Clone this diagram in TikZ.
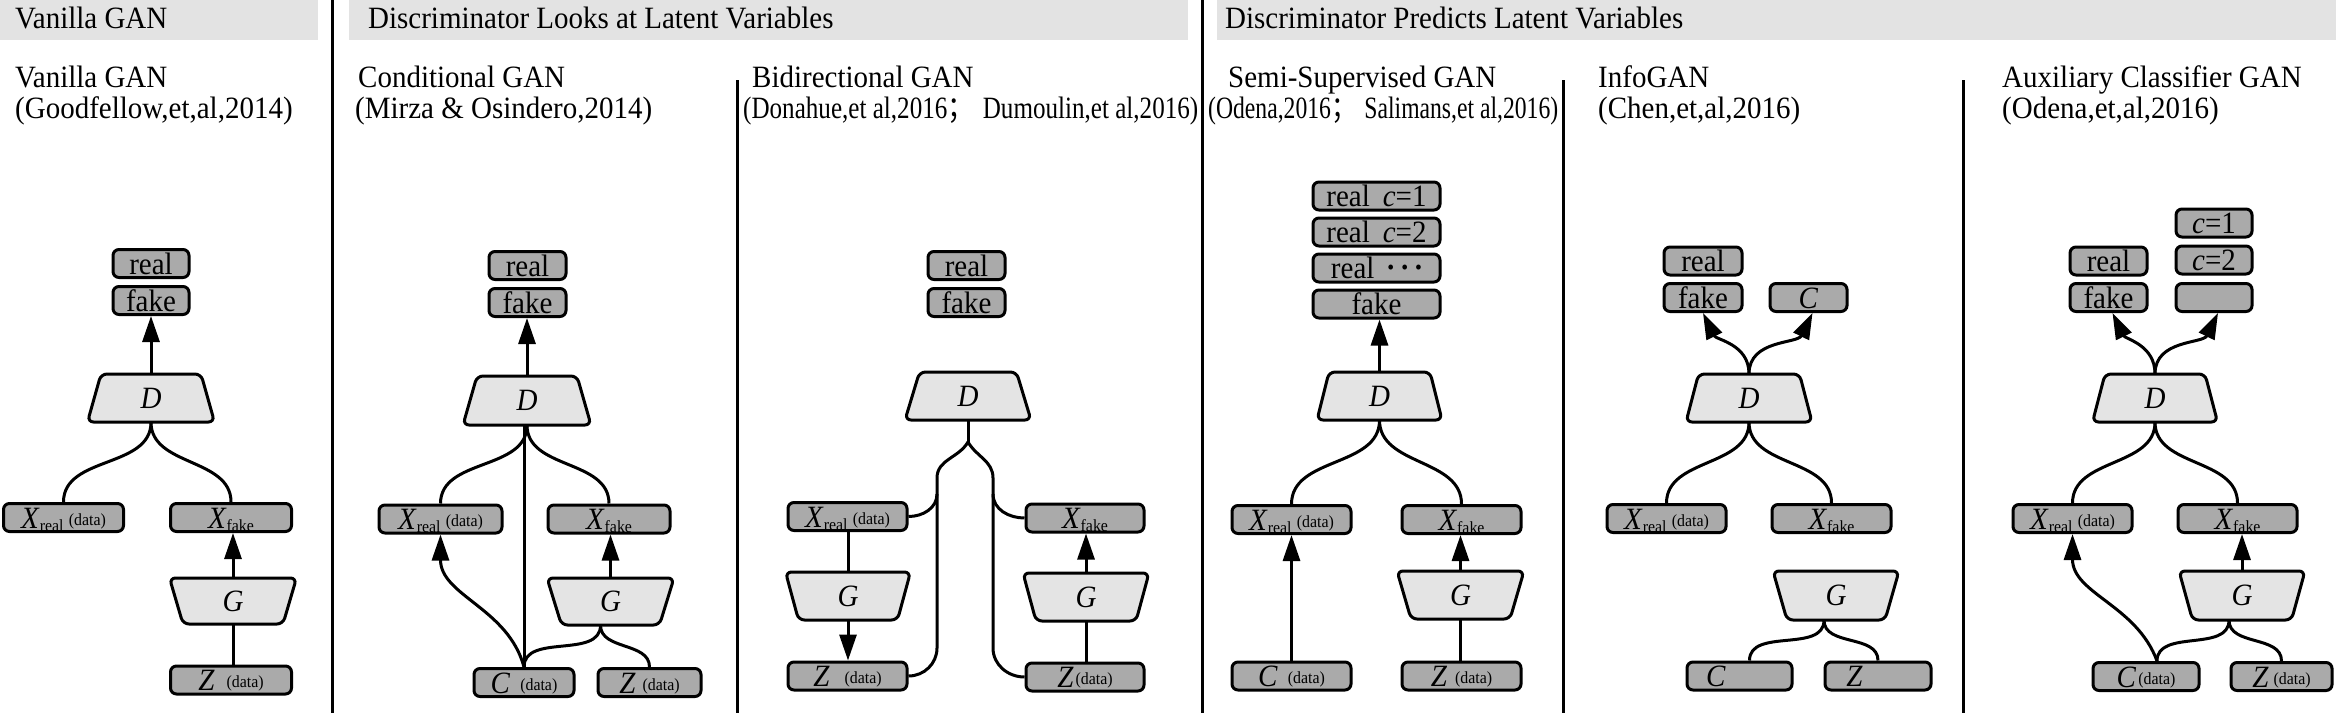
\documentclass[tikz,border=0pt]{standalone}
\usepackage{fontspec}
\setmainfont{Liberation Serif}[FakeStretch=0.935]
\newfontfamily\cjk{Noto Sans CJK SC}
\usetikzlibrary{arrows.meta}
\definecolor{boxfill}{RGB}{170,170,170}
\definecolor{trapfill}{RGB}{228,228,228}
\definecolor{hdrfill}{RGB}{227,227,227}
\newcommand{\sbs}[1]{\raisebox{-3pt}{\fontsize{17}{17}\selectfont #1}}
\newcommand{\dta}{\raisebox{3pt}{\fontsize{17}{17}\selectfont (data)}}
\newcommand{\xr}{\textit{X}\sbs{real}\,\dta}
\newcommand{\xf}{\textit{X}\sbs{fake}}
\newcommand{\bdots}{\raisebox{4pt}{\fontsize{21}{21}\selectfont •\hspace{7pt}•\hspace{7pt}•}}
\newcommand{\trap}[7]{%
  \draw[trapsty] ({#2-(#5)/2},#3) -- ({#2+(#5)/2},#3) -- ({#2+(#6)/2},#4) -- ({#2-(#6)/2},#4) -- cycle;
  \node[inner sep=0pt, minimum width=20pt, minimum height={#4-#3}] (#1) at (#2,{(#3+#4)/2}) {};
  \node[traplbl] at (#1.center) {#7};
}
\begin{document}
\begin{tikzpicture}[x=1pt,y=-1pt,
  box/.style={draw, line width=3pt, fill=boxfill, rounded corners=6pt, inner sep=0pt,
    minimum height=28pt, text height=24.5pt, text depth=3.5pt, font=\fontsize{31}{33}\selectfont},
  trapsty/.style={draw, line width=3pt, fill=trapfill, rounded corners=6pt},
  traplbl/.style={inner sep=0pt, text height=20.5pt, text depth=0pt, font=\fontsize{31}{33}\selectfont\itshape},
  conn/.style={line width=3pt},
  arr/.style={-{Triangle[length=26pt,width=17pt]}},
  ttl/.style={anchor=base west, inner sep=0pt, font=\fontsize{31}{33}\selectfont},
  sepline/.style={line width=3pt},
  hdr/.style={fill=hdrfill}]
\fill[white] (0,0) rectangle (2336,713);
\useasboundingbox (0,0) rectangle (2336,713);
% header bands
\fill[hdr] (0,0) rectangle (318,40);
\fill[hdr] (349,0) rectangle (1188,40);
\fill[hdr] (1217,0) rectangle (2336,40);
\node[ttl] (h1) at (15,28.5) {Vanilla GAN};
\node[ttl] (h2) at (368,28.5) {Discriminator Looks at Latent Variables};
\node[ttl] (h3) at (1225,28.5) {Discriminator Predicts Latent Variables};
% separators
\draw[sepline] (332,0) -- (332,713);
\draw[sepline] (1202,0) -- (1202,713);
\draw[sepline] (737,80) -- (737,713);
\draw[sepline] (1563,80) -- (1563,713);
\draw[sepline] (1963,80) -- (1963,713);
% titles
\node[ttl] (t1a) at (15,87) {Vanilla GAN};
\node[ttl] (t1b) at (15,118) {(Goodfellow,et,al,2014)};
\node[ttl] (t2a) at (358,87) {Conditional GAN};
\node[ttl] (t2b) at (355,118) {(Mirza \& Osindero,2014)};
\node[ttl] (t3a) at (752,87) {Bidirectional GAN};
\node[ttl] (t3b) at (743,118) {\resizebox{455pt}{\height}{(Donahue,et al,2016{\cjk ；}\hspace{10pt}Dumoulin,et al,2016)}};
\node[ttl] (t4a) at (1228,87) {Semi-Supervised GAN};
\node[ttl] (t4b) at (1208,118) {\resizebox{350pt}{\height}{(Odena,2016{\cjk ；}\hspace{10pt}Salimans,et al,2016)}};
\node[ttl] (t5a) at (1598,87) {InfoGAN};
\node[ttl] (t5b) at (1598,118) {(Chen,et,al,2016)};
\node[ttl] (t6a) at (2002,87) {Auxiliary Classifier GAN};
\node[ttl] (t6b) at (2002,118) {(Odena,et,al,2016)};

% ===== Vanilla GAN =====
\trap{vD}{151}{374}{422}{100}{127}{D}
\trap{vG}{233}{578}{624}{127}{100}{G}
\node[box, minimum width=76pt] (vreal) at (151,263.5) {real};
\node[box, minimum width=76pt] (vfake) at (151,300.5) {fake};
\node[box, minimum width=120pt] (vXr) at (63.5,517.5) {\xr};
\node[box, minimum width=121pt] (vXf) at (231,517.5) {\xf};
\node[box, minimum width=121pt] (vZ) at (231,680) {\textit{Z}\hspace{12pt}\dta};
\draw[conn,arr] (vD.north) -- (vfake.south);
\draw[conn] (vD.south) to[out=-90,in=90] (vXr.north);
\draw[conn] (vD.south) to[out=-90,in=90] (vXf.north);
\draw[conn,arr] (vG.north) -- (vG.north |- vXf.south);
\draw[conn] (vG.south) -- (vG.south |- vZ.north);

% ===== Conditional GAN =====
\trap{cD}{527}{376}{425}{100}{128}{D}
\trap{cG}{610.5}{578}{625}{127}{98}{G}
\node[box, minimum width=77pt] (creal) at (527.5,265.5) {real};
\node[box, minimum width=77pt] (cfake) at (527.5,302.5) {fake};
\node[box, minimum width=123pt] (cXr) at (440.5,519) {\xr};
\node[box, minimum width=122pt] (cXf) at (609,519) {\xf};
\node[box, minimum width=100pt] (cC) at (524,682.5) {\textit{C}\hspace{10pt}\dta};
\node[box, minimum width=103pt] (cZ) at (649.5,682.5) {\textit{Z}\hspace{7pt}\dta};
\draw[conn,arr] (cD.north) -- (cD.north |- cfake.south);
\draw[conn] (cD.south) to[out=-90,in=90] (cXr.north);
\draw[conn] (cD.south) to[out=-90,in=90] (cXf.north);
\draw[conn] (cC.north) -- (cC.north |- cD.south);
\draw[conn,arr] (cC.north) to[out=105,in=-90] (cXr.south);
\draw[conn] (cC.north) to[out=90,in=-90] ([xshift=-10pt]cG.south);
\draw[conn] (cZ.north) to[out=90,in=-90] ([xshift=-10pt]cG.south);
\draw[conn,arr] (cG.north) -- (cG.north |- cXf.south);

% ===== Bidirectional GAN =====
\trap{bD}{968}{372}{420}{97}{126}{D}
\trap{bGl}{848}{572}{620}{125}{99}{G}
\trap{bGr}{1086}{573}{621}{126}{100}{G}
\node[box, minimum width=77pt] (breal) at (966.5,265.5) {real};
\node[box, minimum width=77pt] (bfake) at (966.5,302.5) {fake};
\node[box, minimum width=119pt] (bXr) at (847.5,516.5) {\xr};
\node[box, minimum width=119pt] (bZl) at (847.5,676) {\textit{Z}\hspace{15pt}\dta};
\node[box, minimum width=118pt] (bXf) at (1085,518) {\xf};
\node[box, minimum width=118pt] (bZr) at (1085,677) {\textit{Z}\hspace{2pt}\dta};
\coordinate (bj) at (968,442);
\coordinate (bl1) at (937,478);
\coordinate (bl2) at (937,494);
\coordinate (bl3) at (937,648);
\coordinate (br1) at (993,478);
\coordinate (br2) at (993,494);
\coordinate (br3) at (993,648);
\draw[conn] (bD.south) -- (bj);
\draw[conn] (bj) to[out=-120,in=90] (bl1) -- (bl3) to[out=-90,in=0] (bZl.east);
\draw[conn] (bl2) to[out=-90,in=0] (bXr.east);
\draw[conn] (bj) to[out=-60,in=90] (br1) -- (br3) to[out=-90,in=180] (bZr.west);
\draw[conn] (br2) to[out=-90,in=180] (bXf.west);
\draw[conn] (bGl.north |- bXr.south) -- (bGl.north);
\draw[conn,arr] (bGl.south) -- (bGl.south |- bZl.north);
\draw[conn,arr] (bGr.north) -- (bGr.north |- bXf.south);
\draw[conn] (bGr.south |- bZr.north) -- (bGr.south);

% ===== Semi-Supervised GAN =====
\trap{sD}{1379.5}{372}{420}{101}{125}{D}
\trap{sG}{1460.5}{571}{619}{127}{99}{G}
\node[box, minimum width=127pt] (sr1) at (1376.5,196) {real\hspace{13pt}\textit{c}=1};
\node[box, minimum width=127pt] (sr2) at (1376.5,232) {real\hspace{13pt}\textit{c}=2};
\node[box, minimum width=127pt] (sr3) at (1376.5,268) {real\hspace{13pt}\bdots};
\node[box, minimum width=127pt] (sfake) at (1376.5,304) {fake};
\node[box, minimum width=119pt] (sXr) at (1291.5,519.5) {\xr};
\node[box, minimum width=119pt] (sXf) at (1461.5,519.5) {\xf};
\node[box, minimum width=119pt] (sC) at (1291.5,676) {\textit{C}\hspace{10pt}\dta};
\node[box, minimum width=119pt] (sZ) at (1461.5,676) {\textit{Z}\hspace{8pt}\dta};
\draw[conn,arr] (sD.north) -- (sD.north |- sfake.south);
\draw[conn] (sD.south) to[out=-90,in=90] (sXr.north);
\draw[conn] (sD.south) to[out=-90,in=90] (sXf.north);
\draw[conn,arr] (sC.north) -- (sXr.south);
\draw[conn,arr] (sG.north) -- (sG.north |- sXf.south);
\draw[conn] (sG.south |- sZ.north) -- (sG.south);

% ===== InfoGAN =====
\trap{iD}{1749}{374}{422}{101}{126}{D}
\trap{iG}{1836}{571}{620}{126}{98}{G}
\node[box, minimum width=78pt] (ireal) at (1703,261) {real};
\node[box, minimum width=78pt] (ifake) at (1703,297.5) {fake};
\node[box, minimum width=77pt] (iCt) at (1808.5,297.5) {\textit{C}};
\node[box, minimum width=119pt] (iXr) at (1666.5,518.5) {\xr};
\node[box, minimum width=119pt] (iXf) at (1831.5,518.5) {\xf};
\node[box, minimum width=105pt] (iC) at (1739.5,676) {\textit{C}\phantom{\hspace{10pt}\dta}};
\node[box, minimum width=106pt] (iZ) at (1878,676) {\textit{Z}\phantom{\hspace{10pt}\dta}};
\draw[conn,arr] (iD.north) to[out=90,in=-64] (ifake.south);
\draw[conn,arr] (iD.north) to[out=90,in=-116] ([xshift=4pt]iCt.south);
\draw[conn] (iD.south) to[out=-90,in=90] (iXr.north);
\draw[conn] (iD.south) to[out=-90,in=90] (iXf.north);
\draw[conn] ([xshift=-12pt]iG.south) to[out=-90,in=90] ([xshift=10pt]iC.north);
\draw[conn] ([xshift=-12pt]iG.south) to[out=-90,in=90] (iZ.north);

% ===== AC-GAN =====
\trap{aD}{2155}{374}{422}{100}{125}{D}
\trap{aG}{2242}{571}{620}{126}{99}{G}
\node[box, minimum width=77pt] (areal) at (2108.5,261) {real};
\node[box, minimum width=77pt] (afake) at (2108.5,297.5) {fake};
\node[box, minimum width=76pt] (ac1) at (2214,223) {\textit{c}=1};
\node[box, minimum width=76pt] (ac2) at (2214,260) {\textit{c}=2};
\node[box, minimum width=76pt] (ac3) at (2214,297.5) {};
\node[box, minimum width=119pt] (aXr) at (2072.5,518.5) {\xr};
\node[box, minimum width=119pt] (aXf) at (2237.5,518.5) {\xf};
\node[box, minimum width=106pt] (aC) at (2146,676.5) {\textit{C}\hspace{2pt}\dta};
\node[box, minimum width=101pt] (aZ) at (2281.5,676.5) {\textit{Z}\hspace{5pt}\dta};
\draw[conn,arr] (aD.north) to[out=90,in=-64] ([xshift=4pt]afake.south);
\draw[conn,arr] (aD.north) to[out=90,in=-116] ([xshift=4pt]ac3.south);
\draw[conn] (aD.south) to[out=-90,in=90] (aXr.north);
\draw[conn] (aD.south) to[out=-90,in=90] (aXf.north);
\draw[conn,arr] (aG.north) -- (aG.north |- aXf.south);
\draw[conn,arr] ([xshift=11pt]aC.north) to[out=110,in=-90] (aXr.south);
\draw[conn] ([xshift=11pt]aC.north) to[out=90,in=-90] ([xshift=-13pt]aG.south);
\draw[conn] (aZ.north) to[out=90,in=-90] ([xshift=-13pt]aG.south);
\end{tikzpicture}
\end{document}
